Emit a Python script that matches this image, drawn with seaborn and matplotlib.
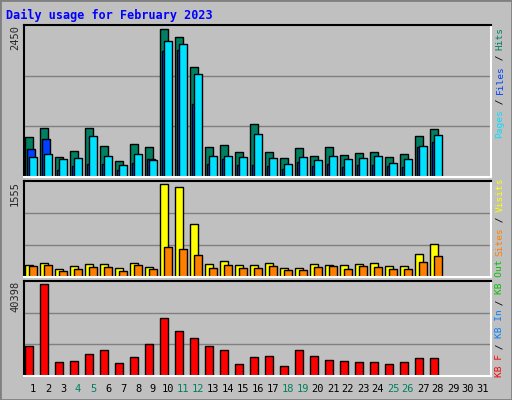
import matplotlib
matplotlib.use('Agg')
import matplotlib.pyplot as plt
import seaborn as sns
import numpy as np
from matplotlib.patches import Rectangle

# Data (February 2023)
days = list(range(1, 32))
hits = [651, 796, 328, 425, 796, 506, 264, 538, 490, 2378, 2249, 1765, 490, 522,
        409, 861, 409, 312, 473, 344, 490, 360, 393, 409, 328, 377, 667, 780]
files = [457, 619, 118, 183, 215, 215, 118, 231, 296, 2023, 2039, 1184, 215, 296,
         199, 199, 183, 134, 247, 183, 215, 167, 199, 199, 183, 167, 490, 570]
pages = [328, 377, 296, 312, 667, 344, 199, 377, 280, 2200, 2136, 1668, 344, 344,
         328, 699, 312, 215, 328, 280, 344, 296, 312, 344, 231, 296, 506, 683]
visits = [200, 233, 136, 184, 217, 217, 152, 233, 168, 1501, 1453, 851, 217, 266,
          200, 200, 233, 152, 152, 217, 200, 200, 217, 233, 184, 184, 379, 542]
sites = [184, 200, 103, 136, 168, 168, 103, 200, 136, 493, 461, 363, 152, 200,
         152, 152, 184, 119, 119, 168, 184, 136, 184, 168, 136, 136, 249, 347]
kbytes = [12940, 38960, 6115, 6540, 9530, 11230, 5690, 8250, 13790, 24460, 19340,
          16350, 12940, 11230, 5260, 8250, 8670, 4410, 11230, 8670, 6970, 6540,
          6115, 6115, 5260, 6115, 7820, 7820]
weekends = [4, 5, 11, 12, 18, 19, 25, 26]
max_hits, max_visits, max_kb = 2450, 1555, 40398

BG = '#c0c0c0'
C_HITS, C_FILES, C_PAGES = '#008060', '#0040ff', '#00e0ff'
C_VISITS, C_SITES, C_KB = '#ffff00', '#ff8000', '#ff0000'
MONO = 'DejaVu Sans Mono'

sns.set_style('white')
plt.rcParams['font.family'] = [MONO]

W, H = 512, 400
fig = plt.figure(figsize=(W / 100, H / 100), dpi=100, facecolor=BG)

# 3D-ish outer border
fig.patches.append(Rectangle((0, 0), 1, 1, transform=fig.transFigure, fill=False,
                             edgecolor='#808080', linewidth=2))


def make_ax(top, bottom):
    ax = fig.add_axes([24 / W, 1 - bottom / H, 467 / W, (bottom - top) / H])
    ax.set_facecolor(BG)
    ax.set_xlim(-1 / 15, 31.07)
    ax.set_xticks([])
    ax.set_yticks([])
    for s in ax.spines.values():
        s.set_color('black')
        s.set_linewidth(1.5)
    ax.spines['right'].set_color('white')
    ax.spines['bottom'].set_color('white')
    return ax


bw = 8 / 15
x = np.arange(len(hits))

ax1 = make_ax(25, 177)
ax1.set_ylim(0, max_hits)
for g in (max_hits / 3, 2 * max_hits / 3):
    ax1.axhline(g, color='#808080', lw=1, zorder=0)
ax1.bar(x, hits, width=bw, align='edge', color=C_HITS, edgecolor='black', lw=1)
ax1.bar(x + 2 / 15, files, width=bw, align='edge', color=C_FILES, edgecolor='black', lw=1)
ax1.bar(x + 4 / 15, pages, width=bw, align='edge', color=C_PAGES, edgecolor='black', lw=1)

ax2 = make_ax(181, 277)
ax2.set_ylim(0, max_visits)
for g in (max_visits / 3, 2 * max_visits / 3):
    ax2.axhline(g, color='#808080', lw=1, zorder=0)
ax2.bar(x, visits, width=bw, align='edge', color=C_VISITS, edgecolor='black', lw=1)
ax2.bar(x + 4 / 15, sites, width=bw, align='edge', color=C_SITES, edgecolor='black', lw=1)

ax3 = make_ax(281, 376)
ax3.set_ylim(0, max_kb)
for g in (max_kb / 3, 2 * max_kb / 3):
    ax3.axhline(g, color='#808080', lw=1, zorder=0)
ax3.bar(x, kbytes, width=bw, align='edge', color=C_KB, edgecolor='black', lw=1)

# title
fig.text(6 / W, 1 - 15 / H, 'Daily usage for February 2023', color='#0000ff',
         fontsize=8.5, fontweight='bold', va='center', ha='left')

# max labels on the left
for val, top in ((max_hits, 25), (max_visits, 181), (max_kb, 281)):
    fig.text(15 / W, 1 - top / H, str(val), rotation=90, fontsize=7.5,
             va='top', ha='center')

# day labels
for d in days:
    fig.text((25 + (d - 1) * 15 + 8) / W, 1 - 389 / H, str(d), fontsize=7.5,
             ha='center', va='center',
             color='#008060' if d in weekends else 'black')


def vertical_legend(parts, y_start, xpix=500, char_px=5.5):
    y = y_start
    for txt, col in parts:
        fig.text(xpix / W, 1 - y / H, txt, rotation=90, fontsize=6.8,
                 color=col, ha='center', va='bottom')
        y -= len(txt) * char_px


vertical_legend([('Pages', C_PAGES), (' / ', 'black'), ('Files', C_FILES),
                 (' / ', 'black'), ('Hits', C_HITS)], 138)
vertical_legend([('KB F', C_KB), (' / ', 'black'), ('KB In', '#0080ff'),
                 (' / ', 'black'), ('KB Out', '#00c000'), (' ', 'black'),
                 ('Sites', C_SITES), (' / ', 'black'), ('Visits', C_VISITS)], 377)

fig.savefig('out.png', dpi=100, facecolor=BG)
